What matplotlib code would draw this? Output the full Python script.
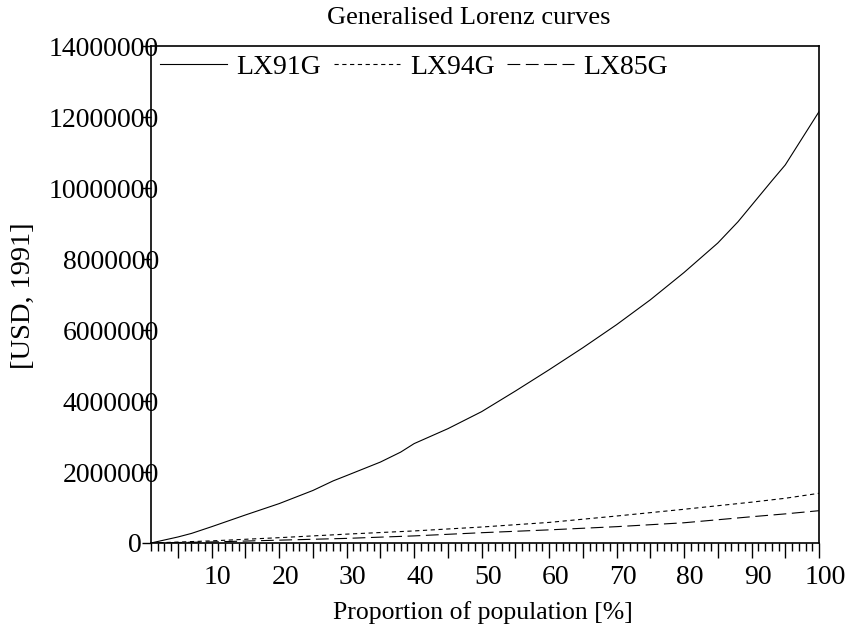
import matplotlib
matplotlib.use('Agg')
import matplotlib.pyplot as plt
from matplotlib.ticker import MultipleLocator, FuncFormatter
import matplotlib.transforms as mtransforms

plt.rcParams['font.family'] = ['Liberation Serif', 'DejaVu Serif']

x91 = [1, 5, 7, 10, 15, 20, 25, 28, 30, 35, 38, 40, 45, 50,
       55, 60, 65, 70, 75, 80, 85, 88, 93, 95, 98, 100]
lx91g = [0, 170000, 270000, 460000, 790000, 1110000, 1480000, 1750000,
         1900000, 2280000, 2560000, 2800000, 3220000, 3700000, 4280000,
         4880000, 5500000, 6150000, 6850000, 7620000, 8450000, 9050000,
         10200000, 10650000, 11550000, 12150000]

x_low = [1, 10, 20, 30, 40, 50, 60, 70, 80, 90, 95, 100]
lx94g = [0, 60000, 150000, 250000, 340000, 450000, 580000, 760000,
         950000, 1150000, 1260000, 1400000]
lx85g = [0, 30000, 80000, 130000, 200000, 290000, 370000, 460000,
         570000, 740000, 820000, 910000]

y_ticks = [0, 2000000, 4000000, 6000000, 8000000, 10000000, 12000000, 14000000]

fig = plt.figure(figsize=(8.47, 6.30), dpi=100)
ax = fig.add_axes([151/847, 1 - 543/630, (819 - 151)/847, (543 - 46)/630])

ax.plot(x91, lx91g, color='black', lw=0.8, label='LX91G')
ax.plot(x_low, lx94g, color='black', lw=0.8, linestyle=(0, (3.8, 3.2)), label='LX94G')
ax.plot(x_low, lx85g, color='black', lw=0.8, linestyle=(0, (11.5, 5.0)), label='LX85G')

ax.set_xlim(1, 100)
ax.set_ylim(0, 14000000)

# Ось X: длинные штрихи каждые 5 (подпись каждые 10), мелкие каждую единицу
ax.xaxis.set_major_locator(MultipleLocator(5))
ax.xaxis.set_minor_locator(MultipleLocator(1))
ax.xaxis.set_major_formatter(FuncFormatter(lambda v, p: str(int(v)) if int(v) % 10 == 0 else ''))
ax.set_yticks(y_ticks)
ax.set_yticklabels([str(v) for v in y_ticks])

ax.tick_params(axis='x', which='major', direction='out', length=11, width=1.0,
               labelsize=20, pad=4.5)
ax.tick_params(axis='x', which='minor', direction='out', length=5.5, width=1.0)
ax.tick_params(axis='y', which='major', direction='out', length=6.5, width=1.0,
               labelsize=20, pad=-12.2)

# подпись "0" стоит левее штриха
ax.yaxis.get_major_ticks()[0].set_pad(0.5)

# подписи X чуть правее штрихов
offset = mtransforms.ScaledTranslation(6/100, 0, fig.dpi_scale_trans)
for lab in ax.get_xticklabels():
    lab.set_transform(lab.get_transform() + offset)

for s in ax.spines.values():
    s.set_linewidth(1.2)

fig.text(469/847, 1 - 18/630, 'Generalised Lorenz curves', ha='center', va='center',
         fontsize=19)
fig.text(483/847, 1 - 613/630, 'Proportion of population [%]', ha='center', va='center',
         fontsize=18.5)
fig.text(23/847, 1 - 296/630, '[USD, 1991]', ha='center', va='center',
         fontsize=20.5, rotation=90)

ax.legend(loc='center left', bbox_to_anchor=(9/668, (543 - 67)/497), ncol=3,
          frameon=False, fontsize=20, handlelength=2.4, handletextpad=0.35,
          columnspacing=0.45, borderpad=0, borderaxespad=0)

plt.savefig('out.png', dpi=100)
